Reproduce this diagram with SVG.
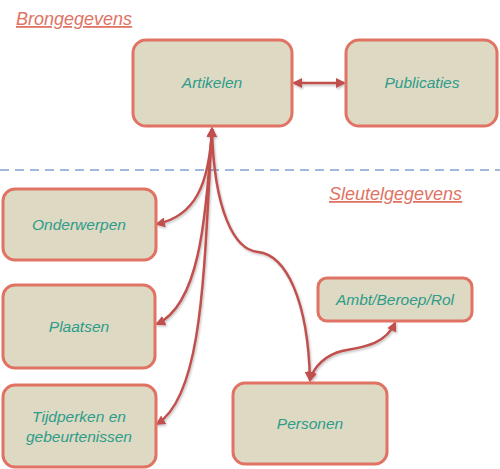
<svg xmlns="http://www.w3.org/2000/svg" width="500" height="469" viewBox="0 0 500 469">
<style>
.box{fill:#DDD9C3;stroke:#E07363;stroke-width:3}
.lbl{font-family:"Liberation Sans",Arial,sans-serif;font-style:italic;font-size:15.5px;fill:#2E9C8A;text-anchor:middle}
.ttl{font-family:"Liberation Sans",Arial,sans-serif;font-style:italic;font-size:18px;fill:#E07363;text-decoration:underline}
.con{fill:none;stroke:#C0504D;stroke-width:2.5;marker-start:url(#ah);marker-end:url(#ah)}
</style>
<defs>
<marker id="ah" viewBox="0 0 10 10" refX="8" refY="5" markerWidth="4" markerHeight="4" orient="auto-start-reverse" markerUnits="strokeWidth">
<path d="M0,0 L10,5 L0,10 z" fill="#C0504D"/>
</marker>
<filter id="sh" x="-20%" y="-20%" width="140%" height="140%">
<feDropShadow dx="1" dy="1.5" stdDeviation="1" flood-color="#000" flood-opacity="0.25"/>
</filter>
</defs>
<line x1="0" y1="170" x2="500" y2="170" stroke="#7FA3D3" stroke-width="1.3" stroke-dasharray="9,6"/>
<text class="ttl" x="16" y="25">Brongegevens</text>
<text class="ttl" x="329" y="200">Sleutelgegevens</text>
<g id="connectors" filter="url(#sh)">
<path class="con" d="M294,83 L344,83"/>
<path class="con" d="M212,129 C209,185 195,216 157,224"/>
<path class="con" d="M212,129 C206,225 198,305 157,324"/>
<path class="con" d="M212,129 C204,265 204,395 157,424"/>
<path class="con" d="M212,129 C214,210 234,250 258,252 C286,255 308,300 310,380"/>
<path class="con" d="M395,323 C385,345 362,347 342,351 C326,355 314,366 310,380"/>
</g>
<g id="artikelen"><rect class="box" x="133" y="40" width="159" height="86" rx="13"/><text class="lbl" x="212" y="88">Artikelen</text></g>
<g id="publicaties"><rect class="box" x="346" y="40" width="151" height="86" rx="13"/><text class="lbl" x="422" y="88">Publicaties</text></g>
<g id="onderwerpen"><rect class="box" x="3" y="189" width="153" height="71" rx="12"/><text class="lbl" x="79" y="230">Onderwerpen</text></g>
<g id="plaatsen"><rect class="box" x="3" y="285" width="152" height="83" rx="12"/><text class="lbl" x="79" y="332">Plaatsen</text></g>
<g id="tijdperken"><rect class="box" x="3" y="385" width="153" height="82" rx="12"/><text class="lbl" x="79" y="422">Tijdperken en</text><text class="lbl" x="79" y="442">gebeurtenissen</text></g>
<g id="personen"><rect class="box" x="233" y="383" width="154" height="81" rx="12"/><text class="lbl" x="310" y="429">Personen</text></g>
<g id="ambt"><rect class="box" x="318" y="278" width="154" height="43" rx="9"/><text class="lbl" x="395" y="305">Ambt/Beroep/Rol</text></g>
</svg>
